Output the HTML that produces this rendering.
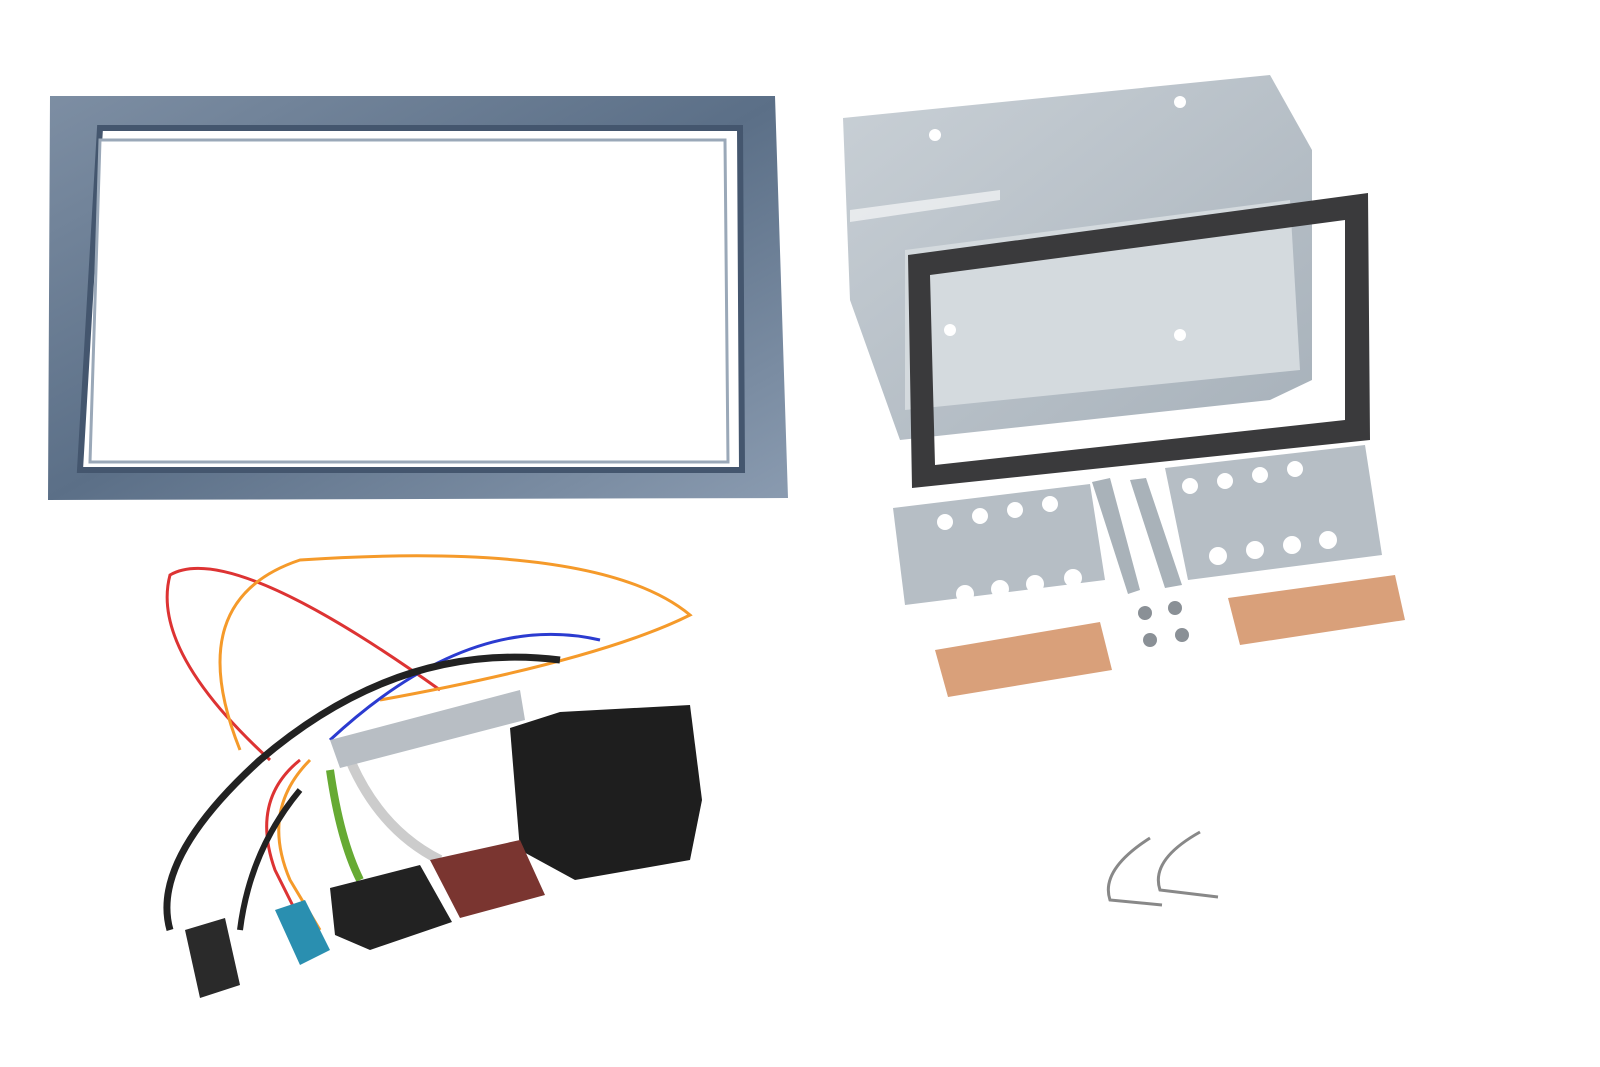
<!DOCTYPE html>
<html><head><style>html,body{margin:0;padding:0;background:#fff;}svg{display:block}</style></head>
<body>
<svg width="1600" height="1067" viewBox="0 0 1600 1067" xmlns="http://www.w3.org/2000/svg">
<defs>
<linearGradient id="bl" x1="0" y1="0" x2="1" y2="1"><stop offset="0" stop-color="#7d8ea3"/><stop offset="0.5" stop-color="#5b6f87"/><stop offset="1" stop-color="#8a9bb0"/></linearGradient>
<linearGradient id="mt" x1="0" y1="0" x2="1" y2="1"><stop offset="0" stop-color="#c9d0d6"/><stop offset="1" stop-color="#a7b1ba"/></linearGradient>
</defs>
<!-- blue frame -->
<path d="M50,96 L775,96 L788,498 L48,500 Z M100,128 L740,128 L742,470 L80,470 Z" fill="url(#bl)" fill-rule="evenodd"/>
<path d="M100,128 L740,128 L742,470 L80,470 Z" fill="none" stroke="#44566e" stroke-width="6"/>
<path d="M100,140 L725,140 L728,462 L90,462 Z" fill="#fff" stroke="#9aa8b8" stroke-width="3"/>
<!-- metal cage -->
<path d="M843,118 L1270,75 L1312,150 L1312,380 L1270,400 L900,440 L850,300 Z" fill="url(#mt)"/>
<path d="M905,250 L1290,200 L1300,370 L905,410 Z" fill="#d4dade"/>
<path d="M850,210 L1000,190 L1000,200 L850,222 Z" fill="#fff" opacity="0.6"/>
<circle cx="935" cy="135" r="6" fill="#fff"/><circle cx="1180" cy="102" r="6" fill="#fff"/>
<circle cx="950" cy="330" r="6" fill="#fff"/><circle cx="1180" cy="335" r="6" fill="#fff"/>
<!-- black front frame -->
<path d="M908,255 L1368,193 L1370,440 L912,488 Z M930,275 L1345,220 L1345,420 L935,465 Z" fill="#3a3a3c" fill-rule="evenodd"/>
<!-- plates -->
<path d="M893,508 L1090,484 L1105,580 L905,605 Z" fill="#b6bec5"/>
<path d="M1165,468 L1365,445 L1382,555 L1188,580 Z" fill="#b6bec5"/>
<g fill="#fff"><circle cx="945" cy="522" r="8"/><circle cx="980" cy="516" r="8"/><circle cx="1015" cy="510" r="8"/><circle cx="1050" cy="504" r="8"/>
<circle cx="965" cy="594" r="9"/><circle cx="1000" cy="589" r="9"/><circle cx="1035" cy="584" r="9"/><circle cx="1073" cy="578" r="9"/>
<circle cx="1190" cy="486" r="8"/><circle cx="1225" cy="481" r="8"/><circle cx="1260" cy="475" r="8"/><circle cx="1295" cy="469" r="8"/>
<circle cx="1218" cy="556" r="9"/><circle cx="1255" cy="550" r="9"/><circle cx="1292" cy="545" r="9"/><circle cx="1328" cy="540" r="9"/></g>
<path d="M1092,482 L1110,478 L1140,590 L1128,594 Z" fill="#a9b2b9"/>
<path d="M1130,480 L1146,478 L1182,585 L1165,588 Z" fill="#a9b2b9"/>
<!-- copper clips -->
<path d="M935,650 L1100,622 L1112,670 L948,697 Z" fill="#d9a07a"/>
<path d="M1228,598 L1395,575 L1405,620 L1240,645 Z" fill="#d9a07a"/>
<g fill="#8a9096"><circle cx="1145" cy="613" r="7"/><circle cx="1175" cy="608" r="7"/><circle cx="1150" cy="640" r="7"/><circle cx="1182" cy="635" r="7"/></g>
<!-- keys -->
<path d="M1150,838 Q1100,870 1110,900 L1162,905" fill="none" stroke="#888" stroke-width="3"/>
<path d="M1200,832 Q1150,860 1160,890 L1218,897" fill="none" stroke="#888" stroke-width="3"/>
<!-- wires -->
<g fill="none" stroke-width="3">
<path d="M270,760 Q150,650 170,575 Q230,540 440,690" stroke="#d33"/>
<path d="M240,750 Q180,600 300,560 Q600,540 690,615 Q600,660 380,700" stroke="#f59a2a"/>
<path d="M330,740 Q470,610 600,640" stroke="#2b3bd0"/>
<path d="M300,760 Q250,800 275,870 L300,920" stroke="#d33"/>
<path d="M310,760 Q260,810 290,880 L320,930" stroke="#f59a2a"/>
</g>
<path d="M560,660 Q400,640 260,760 Q150,860 170,930" fill="none" stroke="#222" stroke-width="7"/>
<path d="M300,790 Q250,850 240,930" fill="none" stroke="#222" stroke-width="6"/>
<path d="M330,770 Q340,840 360,880" fill="none" stroke="#6a3" stroke-width="8"/>
<path d="M350,760 Q380,830 440,860" fill="none" stroke="#ccc" stroke-width="10"/>
<!-- antenna adapter -->
<path d="M330,740 L520,690 L525,720 L340,768 Z" fill="#b8bec4"/>
<!-- connectors -->
<path d="M510,728 L560,712 L690,705 L702,800 L690,860 L575,880 L520,850 Z" fill="#1e1e1e"/>
<path d="M430,860 L520,840 L545,895 L460,918 Z" fill="#7a3530"/>
<path d="M330,888 L420,865 L452,922 L370,950 L335,935 Z" fill="#222"/>
<path d="M275,910 L305,900 L330,950 L300,965 Z" fill="#2a8fb0"/>
<path d="M185,930 L225,918 L240,985 L200,998 Z" fill="#2a2a2a"/>
</svg>
</body></html>
